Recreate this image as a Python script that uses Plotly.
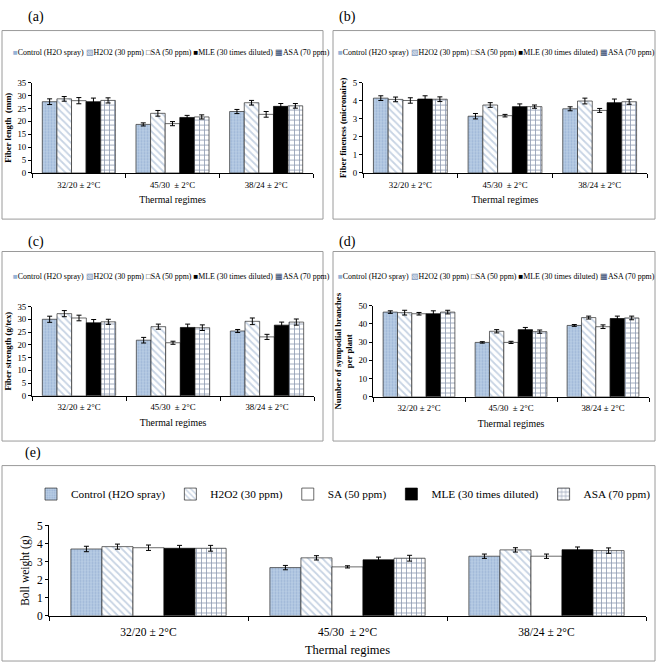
import plotly.graph_objects as go

W, H = 656, 668

categories = ["32/20 ± 2°C", "45/30  ± 2°C", "38/24 ± 2°C"]
series_names = ["Control (H2O spray)", "H2O2 (30 ppm)", "SA (50 ppm)",
                "MLE (30 times diluted)", "ASA (70 ppm)"]

# values per series (rows) across the three thermal regimes (columns)
length_vals = [[27.6, 18.8, 23.8], [28.7, 23.1, 27.2], [28.0, 19.1, 22.7],
               [27.6, 21.5, 25.8], [28.1, 21.7, 26.0]]
length_errs = [[1.1, 0.6, 0.8], [0.9, 1.1, 0.9], [1.2, 0.8, 1.1],
               [1.4, 0.8, 1.1], [1.0, 0.8, 0.9]]

fineness_vals = [[4.14, 3.14, 3.55], [4.07, 3.76, 3.98], [4.01, 3.17, 3.46],
                 [4.09, 3.67, 3.89], [4.08, 3.67, 3.94]]
fineness_errs = [[0.13, 0.15, 0.11], [0.13, 0.13, 0.16], [0.15, 0.07, 0.11],
                 [0.18, 0.15, 0.2], [0.13, 0.09, 0.14]]

strength_vals = [[30.0, 21.8, 25.4], [32.2, 27.1, 29.2], [30.5, 20.8, 23.1],
                 [28.6, 26.8, 27.7], [29.0, 26.7, 28.9]]
strength_errs = [[1.2, 1.1, 0.6], [1.2, 1.0, 1.3], [1.1, 0.6, 1.0],
                 [1.3, 1.3, 1.2], [1.0, 1.1, 1.2]]

branch_vals = [[46.4, 29.8, 39.1], [46.1, 35.9, 43.4], [45.5, 29.8, 38.4],
               [45.5, 36.8, 42.9], [46.4, 35.7, 43.2]]
branch_errs = [[0.7, 0.4, 0.5], [1.3, 0.9, 0.8], [0.7, 0.6, 1.0],
               [1.6, 1.2, 1.3], [1.0, 0.9, 1.0]]

boll_vals = [[3.70, 2.67, 3.30], [3.83, 3.21, 3.65], [3.77, 2.71, 3.30],
             [3.74, 3.10, 3.66], [3.74, 3.19, 3.61]]
boll_errs = [[0.15, 0.12, 0.12], [0.14, 0.12, 0.12], [0.15, 0.06, 0.12],
             [0.16, 0.15, 0.15], [0.16, 0.16, 0.15]]

SERIF = "Liberation Serif, Times New Roman, serif"
LINE = "#2b2b2b"

styles = [
    dict(color="#B8CCE4", line=dict(color=LINE, width=0.7),
         pattern=dict(shape=".", fgcolor="#7E9CC6", bgcolor="#B8CCE4", size=3, solidity=0.35)),
    dict(color="white", line=dict(color=LINE, width=0.7),
         pattern=dict(shape="\\", fgcolor="#8FA8C8", bgcolor="white", size=5, solidity=0.35)),
    dict(color="white", line=dict(color=LINE, width=0.7)),
    dict(color="black", line=dict(color="black", width=0.7)),
    dict(color="white", line=dict(color=LINE, width=0.7),
         pattern=dict(shape="+", fgcolor="#1F3864", bgcolor="white", size=5, solidity=0.3)),
]

def px(x):
    return x / W

def py(y):
    return 1 - y / H

panels = [
    # key, vals, errs, xdom(px), ydom(px top,bottom), range, dtick, ytitle, bold, small
    ("", length_vals, length_errs, (32, 313), (78, 170), 35, 5, "Fiber length  (mm)", True, True),
    ("2", fineness_vals, fineness_errs, (363, 647), (78, 170), 5, 1, "Fiber fineness (micronaire)", True, True),
    ("3", strength_vals, strength_errs, (32, 314), (306, 397), 35, 5, "Fiber strength (g/tex)", True, True),
    ("4", branch_vals, branch_errs, (373, 649), (305, 398), 50, 10, "Number of sympodial branches<br>per plant", True, True),
    ("5", boll_vals, boll_errs, (49, 646), (529, 621), 5, 1, "Boll weight (g)", False, False),
]

fig = go.Figure()
layout = dict(width=W, height=H, margin=dict(l=0, r=0, t=0, b=0),
              paper_bgcolor="white", plot_bgcolor="white",
              barmode="group", bargap=0.22, bargroupgap=0,
              font=dict(family=SERIF, color="black"))

for key, vals, errs, xd, yd, ymax, dt, ytitle, bold, small in panels:
    xa = "x" + key
    ya = "y" + key
    for i in range(5):
        fig.add_trace(go.Bar(
            x=categories, y=vals[i], name=series_names[i],
            xaxis=xa, yaxis=ya, marker=styles[i],
            error_y=dict(type="data", array=errs[i], color="black", thickness=1, width=2.5),
            showlegend=(key == "5"), legend="legend",
        ))
    tf = 8.8 if small else 11.5
    layout["xaxis" + key] = dict(
        domain=[px(xd[0]), px(xd[1])], anchor=ya, showline=True, linecolor="black",
        linewidth=1, ticks="outside", tickson="boundaries", ticklen=4, tickcolor="black",
        ticklabelstandoff=3 if small else 5,
        tickfont=dict(size=tf, family=SERIF), showgrid=False,
        title=dict(text="Thermal regimes", font=dict(size=9.8 if small else 12.5, family=SERIF),
                   standoff=7 if small else 8),
    )
    layout["yaxis" + key] = dict(
        domain=[py(yd[1]), py(yd[0])], anchor=xa, range=[0, ymax], dtick=dt,
        showline=True, linecolor="black", linewidth=1, ticks="outside", ticklen=3,
        tickcolor="black", showgrid=False, zeroline=False,
        tickfont=dict(size=tf, family=SERIF),
        title=dict(text=("<b>%s</b>" % ytitle) if bold else ytitle,
                   font=dict(size=8.7 if small else 11.5, family=SERIF), standoff=4),
    )

layout["legend"] = dict(orientation="h", x=px(347), xanchor="center", y=py(497), yanchor="middle",
                        font=dict(size=11.3, family=SERIF), itemwidth=30, bgcolor="rgba(0,0,0,0)",
                        traceorder="normal")

# legend text for panels (a)-(d)
glyphs = [("■", "#95B3D7"), ("▧", "#6F8DB5"), ("□", "#333333"), ("■", "#000000"), ("▦", "#1F3864")]
leg_text = " ".join('<span style="color:%s">%s</span>%s' % (c, g, n)
                    for (g, c), n in zip(glyphs, series_names))

annotations = []
for cx, cy in [(171, 47), (497, 47), (171, 275), (497, 275)]:
    annotations.append(dict(text=leg_text, x=px(cx), y=py(cy), xref="paper", yref="paper",
                            xanchor="center", yanchor="middle",
                            showarrow=False, font=dict(size=7.9, family=SERIF)))
for lab, x, y in [("(a)", 36, 11), ("(b)", 347, 11), ("(c)", 36, 240), ("(d)", 347, 240), ("(e)", 33, 455)]:
    annotations.append(dict(text=lab, x=px(x), y=py(y), xref="paper", yref="paper",
                            xanchor="center", yanchor="middle",
                            showarrow=False, font=dict(size=14, family=SERIF)))
layout["annotations"] = annotations

shapes = []
for x0, y0, x1, y1 in [(2, 25, 323, 217), (333, 25, 655, 217), (2, 250, 323, 443),
                       (333, 250, 655, 443), (2, 468, 655, 667)]:
    shapes.append(dict(type="rect", xref="paper", yref="paper", x0=px(x0), x1=px(x1),
                       y0=py(y1), y1=py(y0), line=dict(color="#9a9a9a", width=1)))
layout["shapes"] = shapes

fig.update_layout(**layout)
fig.write_html("out.html", config={"displayModeBar": False},
               post_script="document.body.style.margin='0';")
